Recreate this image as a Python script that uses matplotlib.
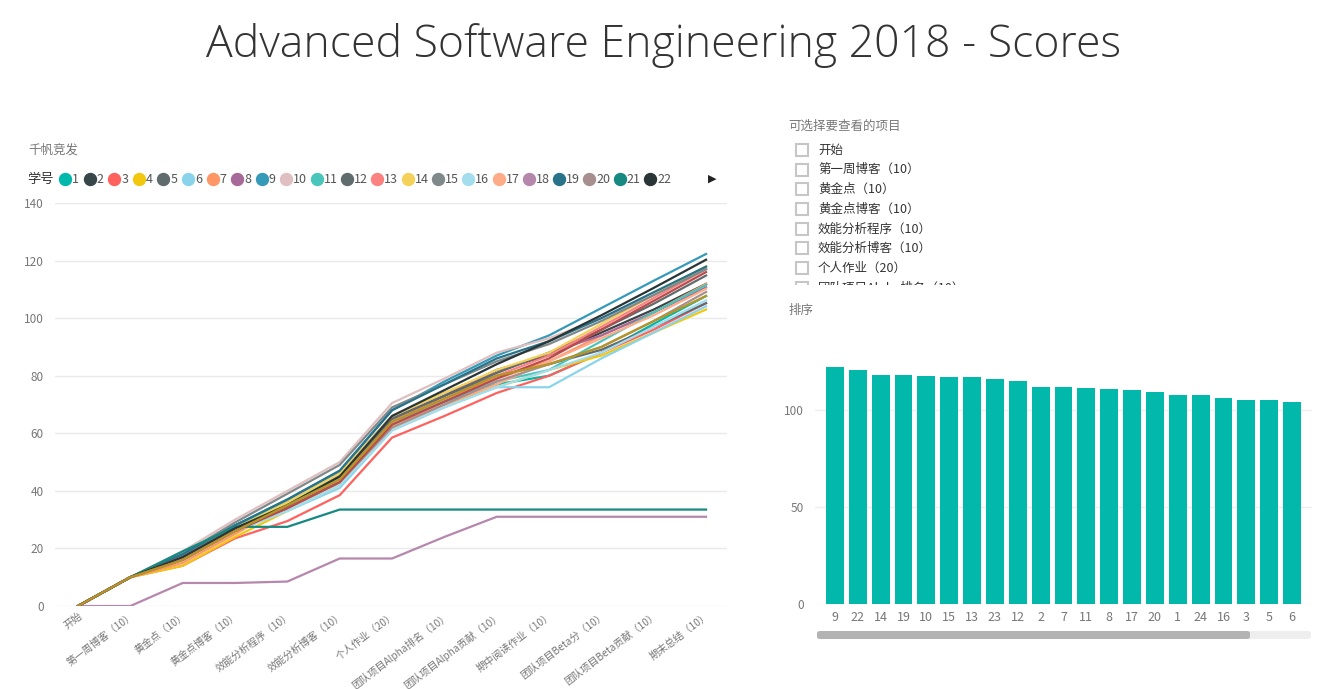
import matplotlib
matplotlib.use("Agg")
import matplotlib.pyplot as plt
from matplotlib.lines import Line2D
from matplotlib.patches import Rectangle, FancyBboxPatch

plt.rcParams['font.family'] = ['Noto Sans CJK SC', 'DejaVu Sans']

# ---- data ----
stages = ['开始', '第一周博客（10）', '黄金点（10）', '黄金点博客（10）', '效能分析程序（10）',
          '效能分析博客（10）', '个人作业（20）', '团队项目Alpha排名（10）', '团队项目Alpha贡献（10）',
          '期中阅读作业（10）', '团队项目Beta分（10）', '团队项目Beta贡献（10）', '期末总结（10）']

student_ids = list(range(1, 25))
colors = ['#01B8AA', '#374649', '#FD625E', '#F2C80F', '#5F6B6D', '#8AD4EB', '#FE9666', '#A66999',
          '#3599B8', '#DFBFBF', '#4AC5BB', '#5F6B6D', '#FB8281', '#F4D25A', '#7F898A', '#A4DDEE',
          '#FDAB89', '#B687AC', '#28738A', '#A78F8F', '#168980', '#293537', '#BB4A4A', '#B59525']

s1 = [0, 10, 17, 27, 34, 43, 63, 71, 77, 80, 88, 98, 107.7]
s2 = [0, 10, 17, 26, 34, 44, 65, 73, 82, 87, 95, 103, 111.9]
s3 = [0, 10, 14, 23.5, 29.5, 38.5, 58.5, 66, 74, 80, 88, 96, 105.2]
s4 = [0, 10, 14, 24, 33, 42, 62, 70, 76, 82, 87, 95, 103]
s5 = [0, 10, 17, 27, 36, 45, 65, 73, 80, 84, 89, 97, 105.2]
s6 = [0, 10, 16, 26, 33, 41, 61, 69, 76, 76, 86, 95, 104.1]
s7 = [0, 10, 15, 25, 35, 45, 65, 72, 79, 85, 94, 102, 111.9]
s8 = [0, 10, 18, 28, 36, 46, 66, 74, 81, 88, 94, 102, 110.7]
s9 = [0, 10, 18, 28, 37, 47, 68, 78, 87, 94, 103.5, 113, 122.3]
s10 = [0, 10, 19, 30, 40, 50, 70.5, 79, 88, 93, 100, 108, 117.4]
s11 = [0, 10, 18, 28, 36, 45, 64, 71, 78, 82, 92, 102, 111.5]
s12 = [0, 10, 17, 27, 35, 45, 65, 73, 81, 88, 96, 105, 114.8]
s13 = [0, 10, 17, 27, 35, 44, 64, 72, 80, 87, 97, 107, 117]
s14 = [0, 10, 17, 27, 36, 46, 66, 74, 82, 88, 98, 108, 118]
s15 = [0, 10, 18, 29, 39, 49, 69, 77, 85, 91, 99, 108, 117]
s16 = [0, 10, 16, 26, 33, 42, 61, 69, 76, 82, 88, 97, 106.2]
s17 = [0, 10, 16, 26, 35, 44, 63, 70, 77, 85, 93, 101, 110.2]
s18 = [0, 0, 8, 8, 8.5, 16.5, 16.5, 24, 31, 31, 31, 31, 31]
s19 = [0, 10, 18, 28, 37, 47, 68, 77, 86, 92, 100, 109, 117.9]
s20 = [0, 10, 17, 27, 34, 43, 62, 70, 78, 84, 90, 99, 109.1]
s21 = [0, 10, 19, 27.5, 27.5, 33.5, 33.5, 33.5, 33.5, 33.5, 33.5, 33.5, 33.5]
s22 = [0, 10, 17, 27, 35, 45, 66, 75, 84, 92, 101, 110.5, 120.3]
s23 = [0, 10, 16, 26, 34, 43, 63, 71, 79, 86, 96, 106, 116]
s24 = [0, 10, 16, 26, 35, 44, 64, 72, 80, 84, 90, 99, 107.7]
series = [s1, s2, s3, s4, s5, s6, s7, s8, s9, s10, s11, s12,
          s13, s14, s15, s16, s17, s18, s19, s20, s21, s22, s23, s24]

rank_ids = ['9', '22', '14', '19', '10', '15', '13', '23', '12', '2', '7',
            '11', '8', '17', '20', '1', '24', '16', '3', '5', '6']
rank_scores = [122.3, 120.3, 118, 117.9, 117.4, 117, 117, 116, 114.8, 111.9, 111.9,
               111.5, 110.7, 110.2, 109.1, 107.7, 107.7, 106.2, 105.2, 105.2, 104.1]

W, H = 1327, 689
fig = plt.figure(figsize=(W / 100, H / 100), dpi=100)
fig.patch.set_facecolor('white')

def fx(px):
    return px / W

def fy(py):
    return 1 - py / H

grey = '#777777'

fig.text(0.5, fy(46), 'Advanced Software Engineering 2018 - Scores', ha='center', va='center',
         fontsize=32, color='#333333', family=['Open Sans', 'DejaVu Sans'], fontweight='light')

# ---- line chart ----
ax = fig.add_axes([fx(55), fy(606), fx(727 - 55), (606 - 203) / H])
x = list(range(len(stages)))
for i, s in enumerate(series):
    ax.plot(x, s, color=colors[i], lw=1.6, solid_joinstyle='round')
ax.set_ylim(0, 140)
ax.set_xlim(-0.44, 12.4)
ax.set_yticks(range(0, 141, 20))
ax.set_xticks(x)
ax.set_xticklabels(stages, rotation=37, ha='right', va='top', rotation_mode='anchor',
                   fontsize=7.3, color=grey)
ax.tick_params(axis='y', labelsize=8.5, labelcolor=grey, length=0, pad=8)
ax.tick_params(axis='x', length=0, pad=3)
ax.grid(axis='y', color='#eaeaea', lw=1)
ax.set_axisbelow(True)
for sp in ax.spines.values():
    sp.set_visible(False)

fig.text(fx(28), fy(150), '千帆竞发', fontsize=9, color=grey, va='center')

# legend row (only the first 22 fit, the rest hide behind the arrow)
fig.text(fx(27), fy(179), '学号', fontsize=9.5, color='#333333', va='center')
cx = 65
for i in range(22):
    fig.add_artist(Line2D([fx(cx)], [fy(179)], marker='o', markersize=8.6, color=colors[i],
                          transform=fig.transFigure, lw=0))
    fig.text(fx(cx + 7), fy(179), str(student_ids[i]), fontsize=9, color='#555555', va='center')
    cx += 24.6 if student_ids[i] < 10 else 30.3
fig.text(fx(712), fy(179), '▶', fontsize=8, color='#222222', va='center', ha='center',
         family=['DejaVu Sans'])

# ---- slicer ----
fig.text(fx(788), fy(126), '可选择要查看的项目', fontsize=9, color=grey, va='center')
sax = fig.add_axes([fx(785), fy(285), fx(330), (285 - 140) / H])
sax.set_xlim(785, 1115)
sax.set_ylim(285, 140)
sax.axis('off')
for k, item in enumerate(stages):
    yy = 150 + k * 19.7
    sax.add_patch(Rectangle((796, yy - 6), 12, 12, fill=False, edgecolor='#c6c6c6', lw=1.5,
                            clip_on=True))
    sax.text(818, yy, item, fontsize=9, color='#333333', va='center', clip_on=True)

# ---- ranking bars ----
fig.text(fx(788), fy(310), '排序', fontsize=9, color=grey, va='center')
bx = fig.add_axes([fx(815), fy(604), fx(1312 - 815), (604 - 340) / H])
bx.bar(range(len(rank_ids)), rank_scores, width=0.78, color='#01B8AA')
bx.set_xlim(-0.875, 20.875)
bx.set_ylim(0, 136)
bx.set_yticks([0, 50, 100])
bx.set_xticks(range(len(rank_ids)))
bx.set_xticklabels(rank_ids, fontsize=9, color=grey)
bx.tick_params(axis='y', labelsize=8.5, labelcolor=grey, length=0, pad=8)
bx.tick_params(axis='x', length=0, pad=5)
bx.grid(axis='y', color='#eeeeee', lw=1)
bx.set_axisbelow(True)
for sp in bx.spines.values():
    sp.set_visible(False)

# scrollbar
fig.add_artist(FancyBboxPatch((fx(817), fy(639)), fx(1311 - 817), 8 / H,
                              boxstyle='round,pad=0,rounding_size=0.003', transform=fig.transFigure,
                              facecolor='#eeeeee', edgecolor='none'))
fig.add_artist(FancyBboxPatch((fx(817), fy(639)), fx(1250 - 817), 8 / H,
                              boxstyle='round,pad=0,rounding_size=0.003', transform=fig.transFigure,
                              facecolor='#b3b3b3', edgecolor='none'))

fig.savefig('out.png', dpi=100, facecolor='white')
